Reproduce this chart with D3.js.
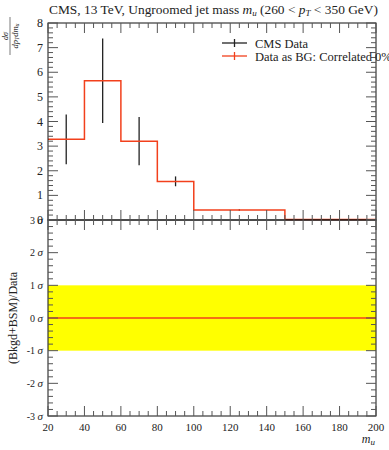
<!DOCTYPE html>
<html><head><meta charset="utf-8">
<script src="https://cdn.jsdelivr.net/npm/d3@7"></script>
<style>body{margin:0;background:#fff}svg{display:block;font-family:"Liberation Serif","DejaVu Serif",serif}</style>
</head><body><svg id="c" width="389" height="450"></svg>
<script>
// ---- data ----
const binEdges = [20, 40, 60, 80, 100, 150, 200];
const bgValues = [3.28, 5.65, 3.2, 1.56, 0.41, 0.02];
const dataCenters = [30, 50, 70, 90, 125, 175];
const dataValues = [3.28, 5.65, 3.2, 1.56, 0.41, 0.02];
const dataErrUp = [4.28, 7.37, 4.18, 1.77, 0.44, 0.02];
const dataErrDown = [2.26, 3.94, 2.22, 1.37, 0.38, 0.02];
const ratioLine = [0, 0];
const sigmaBand = [-1, 1];
const xTicks = [20, 40, 60, 80, 100, 120, 140, 160, 180, 200];
const yTopTicks = [0, 1, 2, 3, 4, 5, 6, 7, 8];
const yBotTicks = [-3, -2, -1, 0, 1, 2, 3];
const legendLabels = ["CMS Data", "Data as BG: Correlated 0%"];

const svg = d3.select("#c");
const L = 48, R = 376, T = 23, M = 220, B = 416;
const x = d3.scaleLinear().domain([20, 200]).range([L, R]);
const yT = d3.scaleLinear().domain([0, 8]).range([M, T]);
const yB = d3.scaleLinear().domain([-3, 3]).range([B, M]);
const red = "#f2401c", tickCol = "#555";

// yellow band
svg.append("rect").attr("x", x(20)).attr("width", x(200) - x(20))
  .attr("y", yB(sigmaBand[1])).attr("height", yB(sigmaBand[0]) - yB(sigmaBand[1]))
  .attr("fill", "#ffff00");
svg.append("line").attr("x1", x(20)).attr("x2", x(200))
  .attr("y1", yB(ratioLine[0])).attr("y2", yB(ratioLine[1]))
  .attr("stroke", red).attr("stroke-width", 1.4);

// histogram step
const stepPts = [];
bgValues.forEach((v, i) => { stepPts.push([binEdges[i], v]); stepPts.push([binEdges[i + 1], v]); });
// data error bars
const g = svg.append("g");
dataCenters.forEach((c, i) => {
  if (dataErrUp[i] - dataErrDown[i] > 0.01)
    g.append("line").attr("x1", x(c)).attr("x2", x(c))
      .attr("y1", yT(dataErrUp[i])).attr("y2", yT(dataErrDown[i]))
      .attr("stroke", "#222").attr("stroke-width", 1.3);
});
svg.append("path").datum(stepPts)
  .attr("d", d3.line().x(d => x(d[0])).y(d => yT(d[1])))
  .attr("fill", "none").attr("stroke", red).attr("stroke-width", 1.5);

// frames
[[T, M], [M, B]].forEach(([a, b]) => {
  svg.append("rect").attr("x", L).attr("y", a).attr("width", R - L).attr("height", b - a)
    .attr("fill", "none").attr("stroke", "#111").attr("stroke-width", 1);
});

// ticks
const tk = svg.append("g").attr("stroke", tickCol).attr("stroke-width", 1);
const xMinor = d3.range(20, 201, 5);
xMinor.forEach(v => {
  const len = (v % 20 === 0) ? 10 : 5;
  [T, M].forEach(yy => tk.append("line").attr("x1", x(v)).attr("x2", x(v)).attr("y1", yy).attr("y2", yy + len));
  [M, B].forEach(yy => tk.append("line").attr("x1", x(v)).attr("x2", x(v)).attr("y1", yy).attr("y2", yy - len));
});
d3.range(0, 8.001, 0.2).forEach(v => {
  const maj = Math.abs(v - Math.round(v)) < 1e-6;
  const len = maj ? 10 : 5;
  tk.append("line").attr("x1", L).attr("x2", L + len).attr("y1", yT(v)).attr("y2", yT(v));
  tk.append("line").attr("x1", R).attr("x2", R - len).attr("y1", yT(v)).attr("y2", yT(v));
});
d3.range(-3, 3.001, 0.2).forEach(v => {
  const maj = Math.abs(v - Math.round(v)) < 1e-6;
  const len = maj ? 10 : 5;
  tk.append("line").attr("x1", L).attr("x2", L + len).attr("y1", yB(v)).attr("y2", yB(v));
  tk.append("line").attr("x1", R).attr("x2", R - len).attr("y1", yB(v)).attr("y2", yB(v));
});

// tick labels
svg.append("g").selectAll("text").data(yTopTicks).join("text")
  .attr("x", 43).attr("y", d => yT(d) + 4).attr("text-anchor", "end")
  .attr("font-size", 12).attr("fill", "#222").text(d => d);
const sb = svg.append("g").selectAll("text").data(yBotTicks).join("text")
  .attr("x", 43).attr("y", d => yB(d) + 3.5).attr("text-anchor", "end")
  .attr("font-size", 10).attr("fill", "#222");
sb.append("tspan").text(d => d + " ");
sb.append("tspan").attr("font-style", "italic").attr("font-size", 11).text("σ");
svg.append("g").selectAll("text").data(xTicks).join("text")
  .attr("x", d => x(d)).attr("y", B + 15).attr("text-anchor", "middle")
  .attr("font-size", 11).attr("fill", "#222").text(d => d);

// x label
const xl = svg.append("text").attr("x", 375).attr("y", 443).attr("text-anchor", "end").attr("font-size", 12).attr("fill", "#222");
xl.append("tspan").attr("font-style", "italic").text("m");
xl.append("tspan").attr("font-style", "italic").attr("font-size", 9).attr("dy", 2).text("u");

// bottom y label
svg.append("text").attr("transform", `translate(17,${yB(0)}) rotate(-90)`)
  .attr("text-anchor", "middle").attr("font-size", 12).attr("fill", "#222")
  .text("(Bkgd+BSM)/Data");

// top y label fraction
const fy = svg.append("g").attr("transform", "translate(10,36) rotate(-90)").attr("fill", "#222");
const num = fy.append("text").attr("x", 0).attr("y", -1.8).attr("text-anchor", "middle").attr("font-size", 8);
num.append("tspan").attr("font-style", "italic").text("d");
num.append("tspan").attr("font-style", "italic").text("σ");
fy.append("line").attr("x1", -19).attr("x2", 19).attr("y1", 0).attr("y2", 0).attr("stroke", "#222").attr("stroke-width", 0.6);
const den = fy.append("text").attr("x", 0).attr("y", 7.5).attr("text-anchor", "middle").attr("font-size", 8.5).attr("font-style", "italic");
den.append("tspan").text("dp");
den.append("tspan").attr("font-size", 6).attr("dy", 1.5).text("T");
den.append("tspan").attr("dy", -1.5).text("dm");
den.append("tspan").attr("font-size", 6).attr("dy", 1.5).text("u");

// title
const title = svg.append("text").attr("x", 49).attr("y", 14).attr("font-size", 12.5).attr("fill", "#222");
title.append("tspan").text("CMS, 13 TeV, Ungroomed jet mass ");
title.append("tspan").attr("font-style", "italic").text("m");
title.append("tspan").attr("font-style", "italic").attr("font-size", 9).attr("dy", 2).text("u");
title.append("tspan").attr("dy", -2).text(" (260 < ");
title.append("tspan").attr("font-style", "italic").text("p");
title.append("tspan").attr("font-style", "italic").attr("font-size", 9).attr("dy", 2).text("T");
title.append("tspan").attr("dy", -2).text(" < 350 GeV)");
const tw = title.node().getComputedTextLength();
title.attr("font-size", 12.5 * 330 / tw);

// legend
const legY = [43, 56];
const legCol = ["#222", red];
legendLabels.forEach((lab, i) => {
  svg.append("line").attr("x1", 222).attr("x2", 247).attr("y1", legY[i]).attr("y2", legY[i]).attr("stroke", legCol[i]).attr("stroke-width", 1.3);
  svg.append("line").attr("x1", 234.5).attr("x2", 234.5).attr("y1", legY[i] - 4).attr("y2", legY[i] + 4).attr("stroke", legCol[i]).attr("stroke-width", 1.3);
  svg.append("text").attr("x", 255).attr("y", legY[i] + 4.5).attr("font-size", 12.5).attr("fill", "#222").text(lab);
});
</script></body></html>
